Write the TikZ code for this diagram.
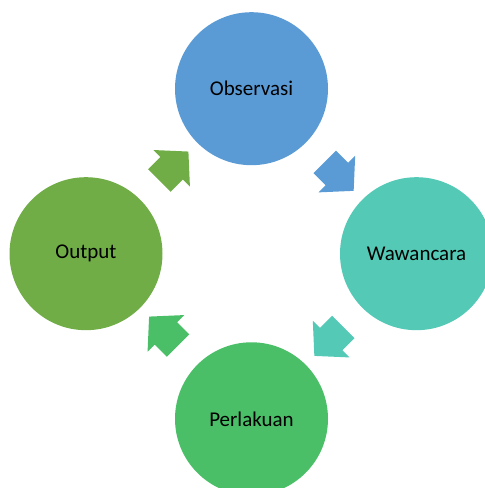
\documentclass[tikz,border=0pt]{standalone}
\usepackage{fontspec}
\setmainfont{Carlito}
\usetikzlibrary{shapes.arrows,calc}
\definecolor{obsblue}{RGB}{91,155,213}
\definecolor{wawteal}{RGB}{83,201,182}
\definecolor{pergreen}{RGB}{74,191,104}
\definecolor{outgreen}{RGB}{112,173,71}
\begin{document}
\begin{tikzpicture}[x=0.5pt,y=0.5pt,
        stage/.style={circle, fill=#1, minimum size=76.5pt, inner sep=0pt, font=\fontsize{10.5}{12}\selectfont},
        flow/.style={single arrow, fill=#1, single arrow head extend=5pt, single arrow tip angle=95,
            inner xsep=0pt, inner ysep=7.75pt, minimum height=20.5pt, minimum width=0pt}]
        \useasboundingbox (0,0) rectangle (485,488);
        \clip (0,0) rectangle (485,488);
    % stages
        \node[stage=obsblue] (obs) at (251.5,399.3) {Observasi};
        \node[stage=wawteal] (waw) at (416.5,234.3) {Wawancara};
        \node[stage=pergreen] (per) at (251.5,69.2) {Perlakuan};
        \node[stage=outgreen] (out) at (86,234.3) {Output};
    % arrows
        \foreach \a/\b/\c/\r in {obs/waw/obsblue/-45,waw/per/wawteal/-135,per/out/pergreen/135,out/obs/outgreen/45}{
            \node[flow=\c, rotate=\r] (\a-\b) at ($(\a)!0.5!(\b)$) {};
        }
\end{tikzpicture}
\end{document}
